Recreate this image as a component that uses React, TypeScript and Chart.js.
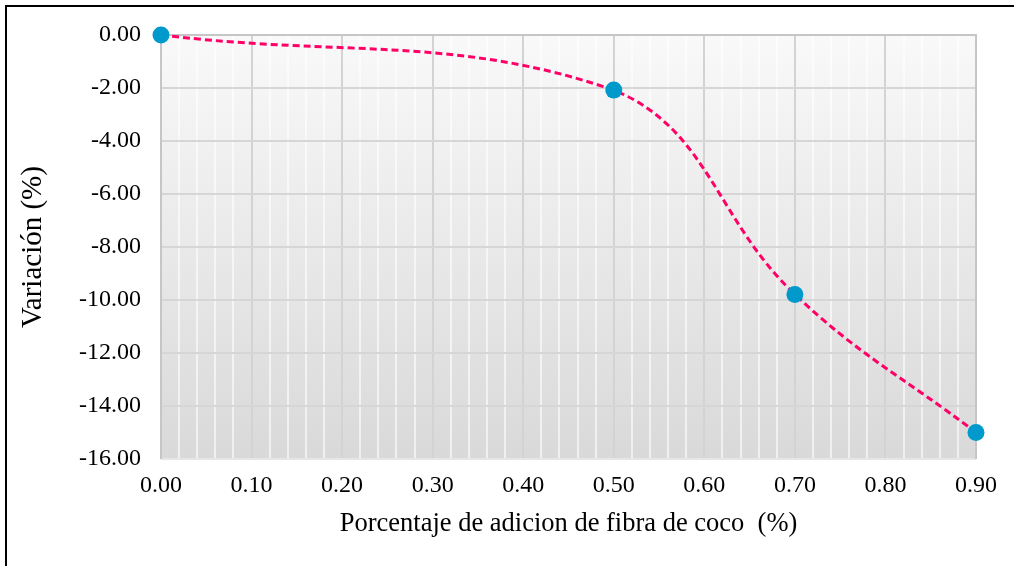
import { useEffect, useRef } from 'react';
import { Chart, registerables } from 'chart.js';

Chart.register(...registerables);

const xValues = [0, 0.5, 0.7, 0.9];
const yValues = [0, -2.08, -9.79, -15.0];
const xTitle = 'Porcentaje de adicion de fibra de coco  (%)';
const yTitle = 'Variación (%)';
const xMin = 0;
const xMax = 0.9;
const xStep = 0.02;
const yMin = -16;
const yMax = 0;
const yStep = 2;

const FONT = '"Liberation Serif", "Times New Roman", serif';

export default function App() {
  const ref = useRef<HTMLCanvasElement>(null);

  useEffect(() => {
    const canvas = ref.current;
    if (!canvas) return;

    const bgPlugin = {
      id: 'bgGradient',
      beforeDraw(chart: any) {
        const { ctx, chartArea } = chart;
        const { left, top, right, bottom } = chartArea;
        const g = ctx.createLinearGradient(0, top, 0, bottom);
        g.addColorStop(0, '#f9f9f9');
        g.addColorStop(1, '#d9d9d9');
        ctx.save();
        ctx.fillStyle = g;
        ctx.fillRect(left, top, right - left, bottom - top);
        ctx.restore();
      },
      beforeDatasetsDraw(chart: any) {
        const { ctx, chartArea } = chart;
        const { left, top, right, bottom } = chartArea;
        ctx.save();
        ctx.lineWidth = 2;
        ctx.strokeStyle = '#e6e6e6';
        ctx.beginPath();
        ctx.moveTo(left, bottom);
        ctx.lineTo(right, bottom);
        ctx.stroke();
        ctx.strokeStyle = '#c6c6c6';
        ctx.beginPath();
        ctx.moveTo(left, bottom);
        ctx.lineTo(left, top);
        ctx.lineTo(right, top);
        ctx.lineTo(right, bottom);
        ctx.stroke();
        ctx.restore();
      },
    };

    const isMajorX = (v: number) => Math.abs(v * 10 - Math.round(v * 10)) < 1e-6;

    const chart = new Chart(canvas, {
      type: 'scatter',
      data: {
        datasets: [
          {
            data: xValues.map((x, i) => ({ x, y: yValues[i] })),
            showLine: true,
            tension: 0.4,
            borderColor: '#ff0066',
            borderWidth: 3,
            borderDash: [7, 4],
            pointBackgroundColor: '#0099cc',
            pointBorderWidth: 0,
            pointRadius: 8.5,
            pointHoverRadius: 8.5,
            clip: false as any,
          },
        ],
      },
      options: {
        responsive: false,
        animation: false,
        devicePixelRatio: 1,
        layout: { padding: { left: 0, top: 35, right: 38, bottom: 0 } },
        plugins: {
          legend: { display: false },
          tooltip: { enabled: false },
        },
        scales: {
          x: {
            type: 'linear',
            min: xMin,
            max: xMax,
            afterFit(scale: any) {
              scale.height = 107;
            },
            ticks: {
              stepSize: xStep,
              autoSkip: false,
              maxRotation: 0,
              padding: 12,
              color: '#000',
              font: { family: FONT, size: 24 },
              callback: (v: any) => (isMajorX(Number(v)) ? Number(v).toFixed(2) : ''),
            },
            grid: {
              drawTicks: false,
              color: (c: any) =>
                isMajorX(c.tick?.value ?? 0) ? '#d3d3d3' : 'rgba(255,255,255,0.6)',
              lineWidth: 2,
            },
            border: { display: false },
            title: {
              display: true,
              text: xTitle,
              color: '#000',
              font: { family: FONT, size: 26.5 },
              padding: { top: 0, bottom: 26 },
            },
          },
          y: {
            type: 'linear',
            min: yMin,
            max: yMax,
            afterFit(scale: any) {
              scale.width = 161;
            },
            ticks: {
              stepSize: yStep,
              padding: 20,
              color: '#000',
              font: { family: FONT, size: 24 },
              callback: (v: any) => Number(v).toFixed(2),
            },
            grid: {
              drawTicks: false,
              color: '#d6d6d6',
              lineWidth: 2,
            },
            border: { display: false },
            title: {
              display: true,
              text: yTitle,
              color: '#000',
              font: { family: FONT, size: 29 },
              padding: { top: 15.5, bottom: 0 },
            },
          },
        },
      },
      plugins: [bgPlugin],
    });

    return () => chart.destroy();
  }, []);

  return (
    <div style={{ position: 'fixed', left: 0, top: 0, width: 1014, height: 566, background: '#fff', overflow: 'hidden' }}>
      <div
        style={{
          position: 'absolute',
          left: 5,
          top: 5,
          width: 1100,
          height: 700,
          borderLeft: '2px solid #000',
          borderTop: '2px solid #000',
        }}
      />
      <canvas ref={ref} width={1014} height={566} style={{ position: 'absolute', left: 0, top: 0 }} />
    </div>
  );
}
